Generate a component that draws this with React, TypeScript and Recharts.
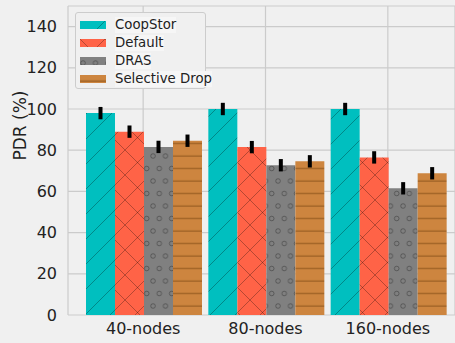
import React from "react";
import { BarChart, Bar, XAxis, YAxis, CartesianGrid, ErrorBar, Legend, Label } from "recharts";

const categories = ["40-nodes", "80-nodes", "160-nodes"];
const coopStor = [98, 100, 100];
const defaultPdr = [89, 81.5, 76.5];
const dras = [81.6, 72.7, 61.5];
const selectiveDrop = [84.6, 74.6, 68.8];
const coopErr = [3, 3, 3];
const defaultErr = [3, 3, 3];
const drasErr = [3, 3, 3];
const selectiveErr = [3, 3, 3];
const yTicks = [0, 20, 40, 60, 80, 100, 120, 140];

const data = categories.map((name, i) => ({
  name,
  coop: coopStor[i],
  def: defaultPdr[i],
  dras: dras[i],
  sel: selectiveDrop[i],
  coopErr: coopErr[i],
  defErr: defaultErr[i],
  drasErr: drasErr[i],
  selErr: selectiveErr[i],
}));

const series = [
  { key: "coop", err: "coopErr", name: "CoopStor", pattern: "hatch-coop" },
  { key: "def", err: "defErr", name: "Default", pattern: "hatch-def" },
  { key: "dras", err: "drasErr", name: "DRAS", pattern: "hatch-dras" },
  { key: "sel", err: "selErr", name: "Selective Drop", pattern: "hatch-sel" },
];

const font = "'DejaVu Sans', sans-serif";

function Patterns() {
  const hatch = "rgba(0,0,0,0.32)";
  return (
    <defs>
      <pattern id="hatch-coop" patternUnits="userSpaceOnUse" width={25} height={25}>
        <rect width={25} height={25} fill="#00bfbf" />
        <path d="M0,25 L25,0 M-3,3 L3,-3 M22,28 L28,22" stroke={hatch} strokeWidth={0.9} />
      </pattern>
      <pattern id="hatch-def" patternUnits="userSpaceOnUse" width={25} height={25}>
        <rect width={25} height={25} fill="#ff6347" />
        <path
          d="M0,25 L25,0 M-3,3 L3,-3 M22,28 L28,22 M0,0 L25,25 M-3,22 L3,28 M22,-3 L28,3"
          stroke={hatch}
          strokeWidth={0.9}
        />
      </pattern>
      <pattern id="hatch-dras" patternUnits="userSpaceOnUse" width={12.5} height={25}>
        <rect width={12.5} height={25} fill="#808080" />
        <circle cx={3} cy={6} r={2.3} fill="none" stroke={hatch} strokeWidth={0.9} />
        <circle cx={9.25} cy={18.5} r={2.3} fill="none" stroke={hatch} strokeWidth={0.9} />
      </pattern>
      <pattern id="hatch-sel" patternUnits="userSpaceOnUse" width={25} height={12.5}>
        <rect width={25} height={12.5} fill="#cd853f" />
        <path d="M0,6 L25,6" stroke="rgba(90,45,0,0.55)" strokeWidth={1} />
      </pattern>
    </defs>
  );
}

function LegendBox() {
  return (
    <div
      style={{
        boxSizing: "border-box",
        border: "1px solid #cccccc",
        borderRadius: 3,
        background: "#f0f0f0",
        padding: "3px 4px 3px 4px",
        width: 131,
        height: 77,
        fontFamily: font,
        whiteSpace: "nowrap",
      }}
    >
      {series.map((s) => (
        <div key={s.key} style={{ display: "flex", alignItems: "center", height: 18 }}>
          <svg width={26} height={8} style={{ marginRight: 9, flexShrink: 0 }}>
            <rect width={26} height={8} fill={`url(#${s.pattern})`} />
          </svg>
          <span style={{ fontSize: 13.3, color: "#222", background: "#f6f6f6", lineHeight: "16px" }}>{s.name}</span>
        </div>
      ))}
    </div>
  );
}

export default function App() {
  return (
    <div style={{ position: "absolute", left: 0, top: 0, width: 455, height: 343, background: "#f0f0f0" }}>
      <BarChart
        width={455}
        height={343}
        data={data}
        margin={{ top: 6, right: 0, bottom: 0, left: 0 }}
        barCategoryGap={4}
        barGap={0}
        style={{ fontFamily: font }}
      >
        <Patterns />
        <CartesianGrid stroke="#cbcbcb" strokeWidth={1.2} />
        <XAxis
          dataKey="name"
          height={28}
          padding={{ left: 14, right: 6 }}
          axisLine={false}
          tickLine={false}
          tick={{ fill: "#222", fontSize: 16 }}
          tickMargin={2}
        />
        <YAxis
          width={68}
          domain={[0, 150]}
          ticks={yTicks}
          axisLine={false}
          tickLine={false}
          tick={{ fill: "#222", fontSize: 16 }}
          tickMargin={5}
        >
          <Label value="PDR (%)" angle={-90} position="insideLeft" offset={20} style={{ fill: "#222", fontSize: 17 }} />
        </YAxis>
        <Legend
          layout="vertical"
          align="center"
          verticalAlign="middle"
          wrapperStyle={{ top: 12, left: 75, width: 131 }}
          content={() => <LegendBox />}
        />
        {series.map((s) => (
          <Bar key={s.key} dataKey={s.key} name={s.name} fill={`url(#${s.pattern})`} isAnimationActive={false}>
            <ErrorBar dataKey={s.err} width={0} strokeWidth={4} stroke="#000" direction="y" />
          </Bar>
        ))}
      </BarChart>
    </div>
  );
}
